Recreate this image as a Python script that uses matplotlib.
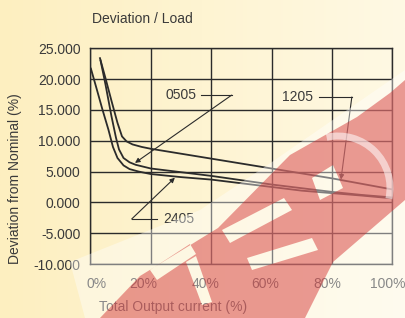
import matplotlib
matplotlib.use('Agg')
import matplotlib.pyplot as plt
import numpy as np
from matplotlib.patches import Polygon, PathPatch, Arc
from matplotlib.path import Path
from matplotlib.transforms import ScaledTranslation

plt.rcParams['font.family'] = ['Liberation Sans', 'DejaVu Sans']

# data
x_1205 = [3.2, 5, 7, 9, 10.5, 12, 14, 17, 20, 30, 40, 50, 60, 70, 80, 90, 100]
y_1205 = [23.4, 20.2, 16.5, 12.9, 10.7, 9.9, 9.4, 9.0, 8.7, 7.9, 7.1, 6.3, 5.5, 4.7, 3.9, 3.0, 2.1]

x_0505 = [3.4, 5, 7, 8.5, 9.5, 11, 13, 15, 20, 30, 40, 50, 60, 70, 80, 90, 100]
y_0505 = [23.0, 19.2, 14.0, 10.5, 8.6, 7.2, 6.5, 6.1, 5.5, 4.9, 4.3, 3.6, 2.9, 2.3, 1.7, 1.2, 0.8]

x_2405 = [0.2, 2, 4, 6, 7.5, 9, 11, 13, 16, 20, 30, 40, 50, 60, 70, 80, 90, 100]
y_2405 = [21.7, 18.6, 15.1, 11.8, 9.0, 7.2, 6.0, 5.4, 5.0, 4.6, 4.1, 3.7, 3.1, 2.5, 1.9, 1.5, 1.1, 0.65]

x_ticks = [0, 20, 40, 60, 80, 100]
y_ticks = [-10, -5, 0, 5, 10, 15, 20, 25]

W, H = 405, 318
fig = plt.figure(figsize=(W / 100, H / 100), dpi=100)


def px(pts):
    return [(x / W, 1 - y / H) for x, y in pts]


# cream background, a bit more yellow on the left
bg = fig.add_axes([0, 0, 1, 1], zorder=-1)
bg.axis('off')
left = np.array([253, 239, 192]) / 255
right = np.array([255, 249, 228]) / 255
t = np.linspace(0, 1, 256)[None, :, None]
bg.imshow(left + (right - left) * t, aspect='auto', extent=[0, 1, 0, 1])

ink = '#2b2b2b'
txt = '#3a3a3a'

ax = fig.add_axes([90.3 / W, 1 - 264 / H, 302 / W, 215.7 / H])
ax.patch.set_alpha(0)
ax.plot(x_1205, y_1205, color=ink, lw=1.3)
ax.plot(x_0505, y_0505, color=ink, lw=1.3)
ax.plot(x_2405, y_2405, color=ink, lw=1.3)

ax.set_xlim(0, 100)
ax.set_ylim(-10, 25)
ax.set_xticks(x_ticks)
ax.set_xticklabels([f'{v}%' for v in x_ticks])
ax.set_yticks(y_ticks)
ax.set_yticklabels([f'{v:.3f}' for v in y_ticks])
ax.tick_params(length=0, labelsize=10, labelcolor=txt)
ax.tick_params(axis='y', pad=7)
ax.tick_params(axis='x', pad=9)
ax.grid(color=ink, lw=1.0)
for s in ax.spines.values():
    s.set_color(ink)
    s.set_linewidth(1.0)

shifts = [6, -7, -6, -6, -5, -5]
for lab, dx in zip(ax.get_xticklabels(), shifts):
    lab.set_transform(lab.get_transform() + ScaledTranslation(dx / 100, 0, fig.dpi_scale_trans))

arrow = dict(arrowstyle='-|>', color=ink, lw=0.8, mutation_scale=7, shrinkA=0, shrinkB=0)

ax.text(25, 17.4, '0505', fontsize=10, color=txt, va='center')
ax.plot([36.5, 46.8], [17.4, 17.4], color=ink, lw=0.8)
ax.annotate('', xy=(14.8, 6.4), xytext=(46.8, 17.4), arrowprops=arrow)

ax.text(63.4, 17.1, '1205', fontsize=10, color=txt, va='center')
ax.plot([75.6, 86.6], [17.1, 17.1], color=ink, lw=0.8)
ax.annotate('', xy=(83, 3.7), xytext=(86.6, 17.1), arrowprops=arrow)

ax.text(24, -2.7, '2405', fontsize=10, color=txt, va='center')
ax.plot([13.7, 22.2], [-2.7, -2.7], color=ink, lw=0.8)
ax.annotate('', xy=(28, 4.0), xytext=(13.7, -2.7), arrowprops=arrow)

fig.text(92 / W, 1 - 19 / H, 'Deviation / Load', fontsize=10, color=txt, va='center')
fig.text(173 / W, 1 - 306.7 / H, 'Total Output current (%)', fontsize=10,
         color=txt, ha='center', va='center')
fig.text(15 / W, 1 - 179 / H, 'Deviation from Nominal (%)', fontsize=10,
         color=txt, ha='center', va='center', rotation=90)

# translucent logo watermark over the lower right
glow = Polygon(px([(70, 262), (200, 210), (272, 162), (405, 70), (405, 318), (85, 318)]),
               closed=True, transform=fig.transFigure, facecolor='white',
               edgecolor='none', alpha=0.4, zorder=5)
fig.add_artist(glow)

outer = px([(100, 318), (140, 276), (218, 228), (290, 155), (357, 117), (390, 93),
            (405, 80), (405, 200), (333, 262), (305, 318)])
holes = [
    px([(222, 230), (230, 243), (292, 210), (284, 198)]),
    px([(247, 258), (252, 270), (318, 250), (312, 238)]),
    px([(312, 178), (320, 200), (343, 188), (333, 165)]),
    px([(150, 270), (157, 280), (196, 254), (190, 244)]),
    px([(186, 262), (202, 305), (212, 302), (196, 256)]),
]
verts, codes = [], []
for ring in [outer] + holes:
    verts += ring + [ring[0]]
    codes += [Path.MOVETO] + [Path.LINETO] * (len(ring) - 1) + [Path.CLOSEPOLY]
red = PathPatch(Path(verts, codes), transform=fig.transFigure, facecolor='#d22c2c',
                edgecolor='none', alpha=0.47, zorder=6)
fig.add_artist(red)

arc = Arc((338 / W, 1 - 188 / H), 104 / W, 104 / H, theta1=-15, theta2=100,
          transform=fig.transFigure, color='white', lw=5, alpha=0.55, zorder=7)
fig.add_artist(arc)

fig.savefig('out.png', dpi=100)
